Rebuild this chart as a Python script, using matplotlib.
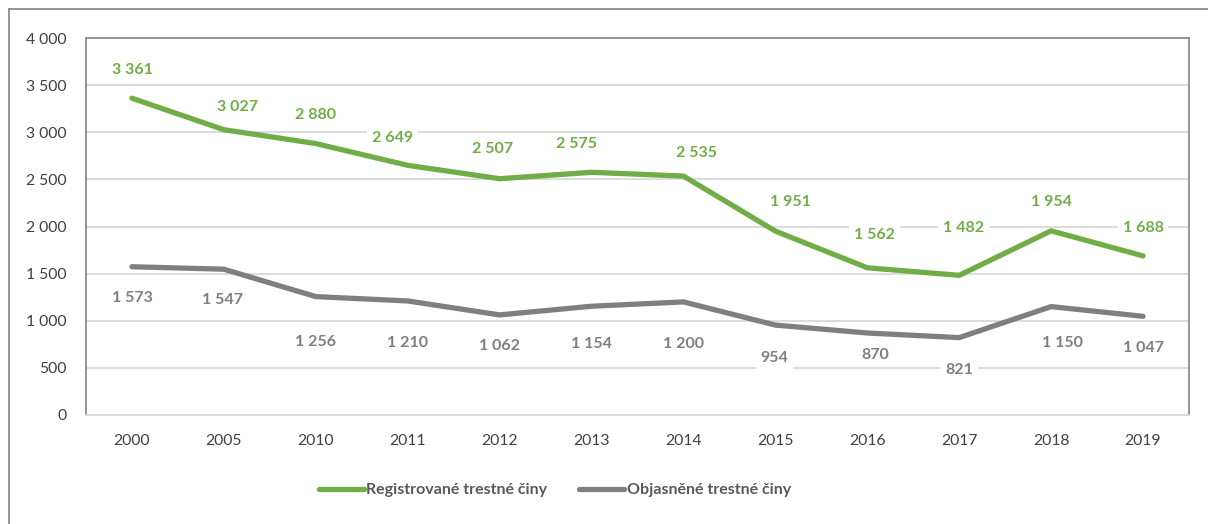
import matplotlib
matplotlib.use("Agg")
import matplotlib.pyplot as plt
from matplotlib.lines import Line2D

plt.rcParams['font.family'] = ['Lato', 'DejaVu Sans']

# Data
years = ['2000', '2005', '2010', '2011', '2012', '2013', '2014',
         '2015', '2016', '2017', '2018', '2019']
registrovane = [3361, 3027, 2880, 2649, 2507, 2575, 2535, 1951, 1562, 1482, 1954, 1688]
objasnene = [1573, 1547, 1256, 1210, 1062, 1154, 1200, 954, 870, 821, 1150, 1047]
yticks = [0, 500, 1000, 1500, 2000, 2500, 3000, 3500, 4000]

# label placement (pixel offsets from the point), hand-placed like the original
green_off = [(0, 28), (14, 23), (0, 29), (-15, 27), (-7, 30), (-15, 28),
             (13, 23), (15, 29), (7, 33), (4, 47), (0, 29), (0, 28)]
gray_off = [(0, -31), (-1, -31), (0, -45), (0, -42), (0, -31), (0, -38),
            (0, -42), (-1, -33), (8, -22), (0, -32), (11, -36), (0, -32)]

green = '#70AD47'
gray = '#7F7F7F'
text_col = '#404040'


def fmt(v):
    return f"{v:,}".replace(",", " ")


W, H = 1208, 524
fig = plt.figure(figsize=(W / 100, H / 100), dpi=100)
ax = fig.add_axes([86 / W, 1 - 415 / H, (1189 - 86) / W, (415 - 38) / H])

x = list(range(len(years)))
ax.plot(x, registrovane, color=green, lw=3.8, solid_capstyle='round',
        solid_joinstyle='round', zorder=3)
ax.plot(x, objasnene, color=gray, lw=3.8, solid_capstyle='round',
        solid_joinstyle='round', zorder=3)

# data labels
for i, v in enumerate(registrovane):
    ax.annotate(fmt(v), (i, v), xytext=green_off[i], textcoords='offset pixels',
                ha='center', va='center', color=green, fontsize=11.5,
                fontweight='bold', zorder=4,
                bbox=dict(boxstyle='square,pad=0.3', fc='white', ec='none'))
for i, v in enumerate(objasnene):
    ax.annotate(fmt(v), (i, v), xytext=gray_off[i], textcoords='offset pixels',
                ha='center', va='center', color=gray, fontsize=11.5,
                fontweight='bold', zorder=4,
                bbox=dict(boxstyle='square,pad=0.3', fc='white', ec='none'))

ax.set_xlim(-0.5, len(years) - 0.5)
ax.set_ylim(0, 4000)
ax.set_xticks(x)
ax.set_xticklabels(years)
ax.set_yticks(yticks)
ax.set_yticklabels([fmt(t) for t in yticks])
ax.tick_params(axis='both', length=0, labelsize=11.3, colors=text_col)
ax.tick_params(axis='x', pad=14)
ax.tick_params(axis='y', pad=14)

ax.grid(axis='y', color='#D9D9D9', lw=1.3, zorder=0)
ax.set_axisbelow(True)
for s in ['left', 'top', 'right']:
    ax.spines[s].set_color('#8C8C8C')
    ax.spines[s].set_linewidth(1.3)
ax.spines['bottom'].set_color('#D9D9D9')
ax.spines['bottom'].set_linewidth(1.3)

# legend
handles = [Line2D([], [], color=green, lw=3.8, solid_capstyle='round'),
           Line2D([], [], color=gray, lw=3.8, solid_capstyle='round')]
fig.legend(handles, ['Registrované trestné činy', 'Objasněné trestné činy'],
           loc='center', bbox_to_anchor=(555 / W, 1 - 490 / H), ncol=2,
           frameon=False, handlelength=2.8, handletextpad=0.15,
           columnspacing=2.0,
           prop={'family': ['Lato', 'DejaVu Sans'], 'weight': 'bold', 'size': 11.5},
           labelcolor='#595959')

# outer frame of the chart
fig.add_artist(Line2D([9 / W, 1], [1 - 9 / H, 1 - 9 / H], color='#8C8C8C', lw=1.3,
                      transform=fig.transFigure))
fig.add_artist(Line2D([9 / W, 9 / W], [0, 1 - 9 / H], color='#8C8C8C', lw=1.3,
                      transform=fig.transFigure))

fig.savefig('out.png', dpi=100, facecolor='white')
